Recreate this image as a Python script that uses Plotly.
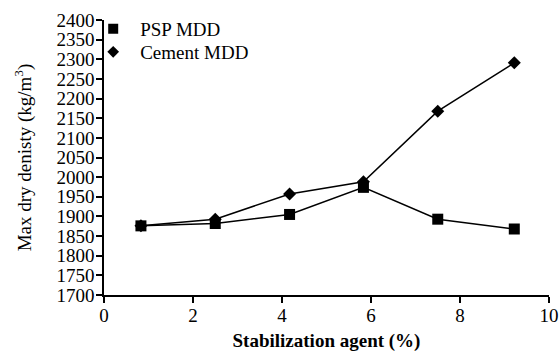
import plotly.graph_objects as go

agent_pct = [0.83, 2.5, 4.17, 5.83, 7.5, 9.22]
psp_mdd = [1876, 1882, 1905, 1974, 1893, 1868]
cement_mdd = [1876, 1893, 1957, 1988, 2168, 2291]
x_ticks = [0, 2, 4, 6, 8, 10]
y_ticks = list(range(1700, 2401, 50))

FONT = "Liberation Serif"

fig = go.Figure()
fig.add_trace(go.Scatter(x=agent_pct, y=psp_mdd, mode="lines+markers", showlegend=False,
                         line=dict(color="black", width=1.5),
                         marker=dict(symbol="square", size=11, color="black")))
fig.add_trace(go.Scatter(x=agent_pct, y=cement_mdd, mode="lines+markers", showlegend=False,
                         line=dict(color="black", width=1.5),
                         marker=dict(symbol="diamond", size=10, color="black")))
# legend entries (markers only)
fig.add_trace(go.Scatter(x=[None], y=[None], mode="markers", name="PSP MDD", legend="legend",
                         marker=dict(symbol="square", size=10, color="black")))
fig.add_trace(go.Scatter(x=[None], y=[None], mode="markers", name="Cement MDD", legend="legend2",
                         marker=dict(symbol="diamond", size=9, color="black")))

leg_common = dict(xanchor="left", yanchor="middle", itemwidth=44,
                  bgcolor="rgba(0,0,0,0)", font=dict(size=19, family=FONT))

fig.update_layout(
    width=560, height=352,
    margin=dict(l=104, r=11, t=19, b=57),
    paper_bgcolor="white", plot_bgcolor="white",
    font=dict(family=FONT, size=19, color="black"),
    legend=dict(x=-0.040, y=0.9638, **leg_common),
    legend2=dict(x=-0.040, y=0.8804, **leg_common),
    xaxis=dict(range=[0, 10], tickvals=x_ticks, showgrid=False, zeroline=False,
               automargin=False,
               showline=True, linecolor="black", linewidth=1.5,
               ticks="outside", ticklen=6, tickwidth=1.5, tickcolor="black",
               tickfont=dict(size=19, family=FONT), ticklabelstandoff=-4,
               title=dict(text="<b>Stabilization agent (%)</b>", standoff=12,
                          font=dict(size=19, family=FONT))),
    yaxis=dict(range=[1700, 2400], tickvals=y_ticks, showgrid=False, zeroline=False,
               automargin=False,
               showline=True, linecolor="black", linewidth=1.5,
               ticks="outside", ticklen=6, tickwidth=1.5, tickcolor="black",
               tickfont=dict(size=19, family=FONT), ticklabelstandoff=-2,
               title=dict(text="Max dry denisty (kg/m<sup>3</sup>)", standoff=20,
                          font=dict(size=19, family=FONT))),
)

fig.write_html("out.html")
